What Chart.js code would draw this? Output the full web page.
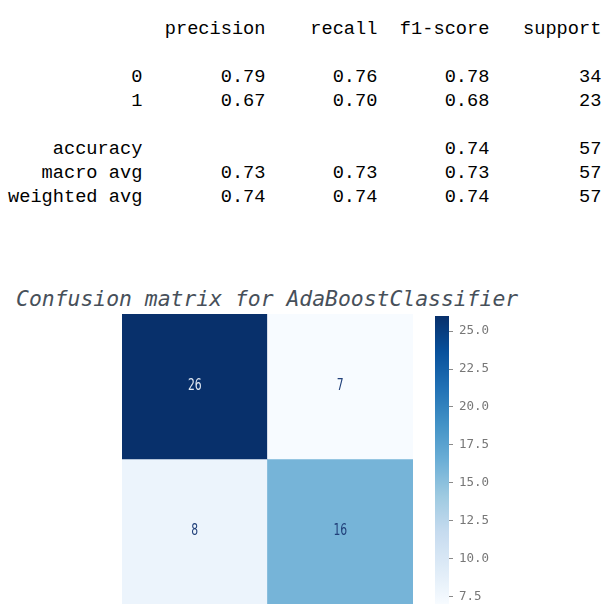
<!DOCTYPE html>
<html>
<head>
<meta charset="utf-8">
<script src="https://cdn.jsdelivr.net/npm/chart.js@4"></script>
<style>
  body { margin: 0; background: #fff; width: 612px; height: 614px; position: relative; overflow: hidden; }
  #report { position: absolute; left: 8px; top: 17px; margin: 0; font-family: "Liberation Mono", monospace; font-size: 18.67px; line-height: 24px; color: #000; }
  #title { position: absolute; left: 16px; top: 288px; font-family: "DejaVu Sans Mono", monospace; font-style: italic; font-size: 21.4px; line-height: 1; color: #47505a; white-space: pre; }
  #heatmap { position: absolute; left: 122px; top: 314px; }
  #cbar { position: absolute; left: 435px; top: 316px; }
</style>
</head>
<body>
<pre id="report"></pre>
<div id="title">Confusion matrix for AdaBoostClassifier</div>
<canvas id="heatmap" width="291" height="290"></canvas>
<canvas id="cbar" width="70" height="288"></canvas>
<script>
// ===== datos del reporte =====
const classes = ['0', '1'];
const metricNames = ['precision', 'recall', 'f1-score', 'support'];
const precision = [0.79, 0.67];
const recall = [0.76, 0.70];
const f1Score = [0.78, 0.68];
const support = [34, 23];
const accuracy = 0.74;
const totalSupport = 57;
const macroAvg = [0.73, 0.73, 0.73];
const weightedAvg = [0.74, 0.74, 0.74];

// matriz de confusion (filas = real, columnas = predicho)
const confusion = [[26, 7], [8, 16]];
const cbarMin = 7;
const cbarMax = 26;
const cbarTicks = [7.5, 10, 12.5, 15, 17.5, 20, 22.5, 25];

// matplotlib Blues
const bluesStops = ['#f7fbff', '#deebf7', '#c6dbef', '#9ecae1', '#6baed6', '#4292c6', '#2171b5', '#08519c', '#08306b'];

function hexToRgb(h) {
    return [1, 3, 5].map(i => parseInt(h.substr(i, 2), 16));
}

function blues(v) {
    let t = (v - cbarMin) / (cbarMax - cbarMin);
    t = Math.max(0, Math.min(1, t));
    const pos = t * (bluesStops.length - 1);
    const i = Math.min(Math.floor(pos), bluesStops.length - 2);
    const f = pos - i;
    const a = hexToRgb(bluesStops[i]), b = hexToRgb(bluesStops[i + 1]);
    const c = a.map((x, k) => Math.round(x + (b[k] - x) * f));
    return `rgb(${c[0]}, ${c[1]}, ${c[2]})`;
}

// ===== reporte de texto, formato sklearn =====
function buildReport() {
    const width = 'weighted avg'.length;
    const num = v => ' ' + v.toFixed(2).padStart(9);
    const cnt = v => ' ' + String(v).padStart(9);
    const lines = [];
    lines.push(''.padStart(width) + ' ' + metricNames.map(n => ' ' + n.padStart(9)).join(''));
    lines.push('');
    classes.forEach((c, i) => {
        lines.push(c.padStart(width) + ' ' + num(precision[i]) + num(recall[i]) + num(f1Score[i]) + cnt(support[i]));
    });
    lines.push('');
    lines.push('accuracy'.padStart(width) + ' ' + ' '.repeat(20) + num(accuracy) + cnt(totalSupport));
    lines.push('macro avg'.padStart(width) + ' ' + macroAvg.map(num).join('') + cnt(totalSupport));
    lines.push('weighted avg'.padStart(width) + ' ' + weightedAvg.map(num).join('') + cnt(totalSupport));
    return lines.join('\n');
}
document.getElementById('report').textContent = buildReport();

// ===== etiquetas de celdas =====
const cellLabels = {
    id: 'cellLabels',
    afterDatasetsDraw(chart) {
        const ctx = chart.ctx;
        chart.data.datasets.forEach((ds, r) => {
            chart.getDatasetMeta(r).data.forEach((bar, c) => {
                const v = confusion[r][c];
                const t = (v - cbarMin) / (cbarMax - cbarMin);
                ctx.save();
                ctx.translate(bar.x, (bar.y + bar.base) / 2);
                ctx.scale(0.72, 1);   // texto estrecho como en la imagen
                ctx.textAlign = 'center';
                ctx.textBaseline = 'middle';
                ctx.font = '15px "DejaVu Sans", sans-serif';
                ctx.fillStyle = t > 0.6 ? '#e4ebf4' : '#21407a';
                ctx.fillText(String(v), 0, 0);
                ctx.restore();
            });
        });
    }
};

new Chart(document.getElementById('heatmap'), {
    type: 'bar',
    data: {
        labels: classes,
        datasets: confusion.map((row, r) => ({
            data: row.map(() => [r, r + 1]),
            backgroundColor: row.map(v => blues(v)),
            borderWidth: 0,
            barPercentage: 1,
            categoryPercentage: 1
        }))
    },
    options: {
        responsive: false,
        animation: false,
        layout: { padding: 0 },
        plugins: { legend: { display: false }, tooltip: { enabled: false } },
        scales: {
            x: { display: false, stacked: true },
            y: { display: false, min: 0, max: 2, reverse: true }
        }
    },
    plugins: [cellLabels]
});

// ===== barra de color =====
new Chart(document.getElementById('cbar'), {
    type: 'bar',
    data: {
        labels: [''],
        datasets: [{
            data: [[cbarMin, cbarMax]],
            backgroundColor: (c) => {
                const area = c.chart.chartArea;
                if (!area) return bluesStops[4];
                const g = c.chart.ctx.createLinearGradient(0, area.bottom, 0, area.top);
                bluesStops.forEach((col, i) => g.addColorStop(i / (bluesStops.length - 1), col));
                return g;
            },
            borderWidth: 0,
            barPercentage: 1,
            categoryPercentage: 1
        }]
    },
    options: {
        responsive: false,
        animation: false,
        layout: { padding: 0 },
        plugins: { legend: { display: false }, tooltip: { enabled: false } },
        scales: {
            x: { display: false },
            y: {
                position: 'right',
                min: cbarMin,
                max: cbarMax,
                border: { display: false },
                grid: { drawOnChartArea: false, drawTicks: true, tickLength: 4, color: '#8a8a8a', lineWidth: 1 },
                ticks: {
                    padding: 6,
                    color: '#777',
                    font: { family: 'DejaVu Sans Mono', size: 12.5 },
                    callback: v => v.toFixed(1)
                },
                afterBuildTicks: s => { s.ticks = cbarTicks.map(v => ({ value: v })); },
                afterFit: s => { s.width = 56; s.paddingTop = 0; s.paddingBottom = 0; }
            }
        }
    }
});
</script>
</body>
</html>
